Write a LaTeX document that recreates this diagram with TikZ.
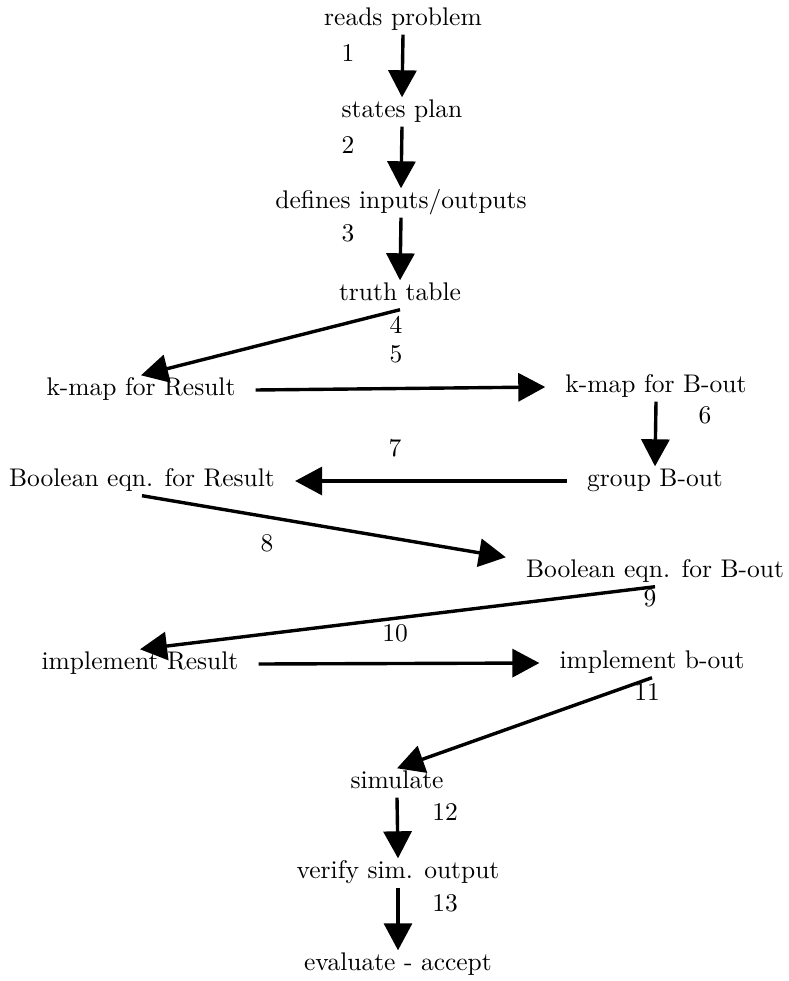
\documentclass[tikz,border=0pt]{standalone}
\usepackage{fontspec}
\setmainfont{lmroman10-regular}[Extension=.otf]
\usetikzlibrary{arrows.meta}
\tikzset{
  stage/.style={font=\fontsize{25.5}{30}\selectfont, inner xsep=20pt, inner ysep=3pt, text height=17pt, text depth=6pt},
  num/.style={font=\fontsize{25.5}{30}\selectfont, inner sep=0pt},
  flow/.style={line width=3.4pt, -{Triangle[length=27pt,width=28pt]}}
}
\begin{document}
\begin{tikzpicture}[x=1pt, y=-1pt]
  \useasboundingbox (0,0) rectangle (788,981);
  % stages
  \foreach \n/\x/\y/\t in {
    rp/403/20/reads problem, sp/402/112/states plan,
    dio/401/203/{defines inputs/outputs}, tt/400/295/truth table,
    kr/141/390/k-map for Result, kb/656/387/k-map for B-out,
    gb/655/481/group B-out, ber/142/481/Boolean eqn. for Result,
    beb/655/572/Boolean eqn. for B-out, ir/140/664/implement Result,
    ib/652/663/implement b-out, sim/397/783/simulate,
    vso/398/873/verify sim. output, ea/398/965/evaluate - accept} {
    \node[stage] (\n) at (\x,\y) {\t};
  }
  % step numbers
  \foreach \n/\x/\y in {
    1/348/53, 2/348/145, 3/348/233, 4/396/325, 5/396/354,
    6/705/415, 7/395/448, 8/267/543, 9/650/598, 10/395/633,
    11/647/692, 12/445/812, 13/445/903} {
    \node[num] (l\n) at (\x,\y) {\n};
  }
  % arrows
  \foreach \a/\b in {
    rp.south/sp.north, sp.south/dio.north, dio.south/tt.north,
    tt.south/kr.north, kr.east/kb.west, kb.south/gb.north,
    gb.west/ber.east, ber.south/beb.north west, beb.south/ir.north,
    ir.east/ib.west, ib.south/sim.north, sim.south/vso.north,
    vso.south/ea.north} {
    \draw[flow] (\a) -- (\b);
  }
\end{tikzpicture}
\end{document}
